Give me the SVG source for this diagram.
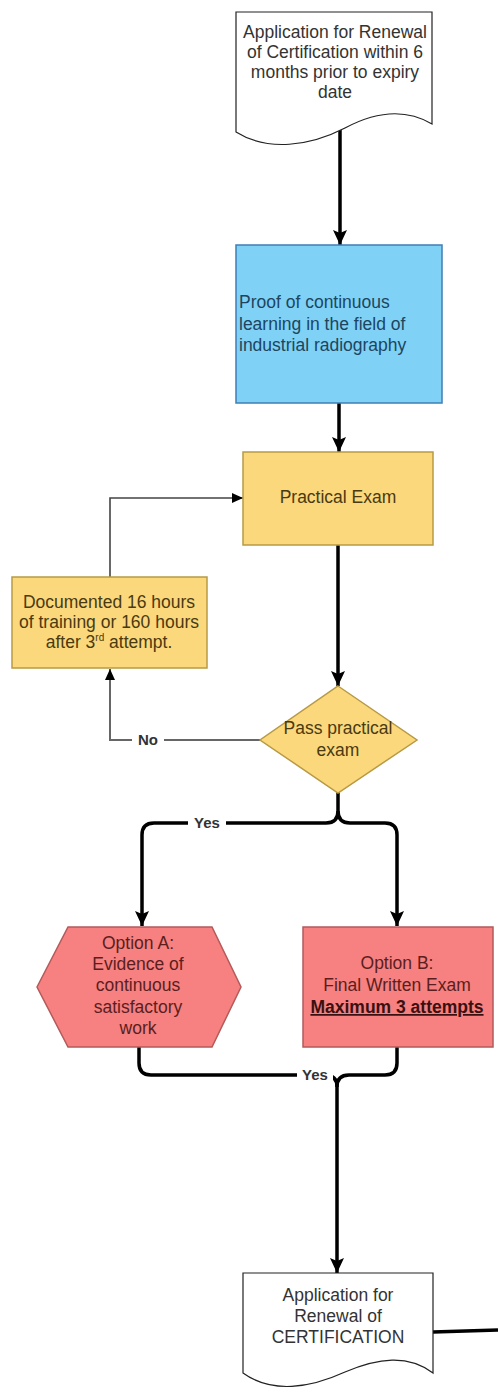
<svg xmlns="http://www.w3.org/2000/svg" width="498" height="1395" viewBox="0 0 498 1395">
<defs>
<style>
.t{font-family:"Liberation Sans",Arial,sans-serif;font-size:17.5px;text-anchor:middle}
.doc{fill:#ffffff;stroke:#222;stroke-width:1.2}
.blue{fill:#7fd2f6;stroke:#3f7fb5;stroke-width:1.5}
.yel{fill:#fbd87b;stroke:#b89a45;stroke-width:1.5}
.red{fill:#f78080;stroke:#b35a5a;stroke-width:1.5}
.thick{fill:none;stroke:#000;stroke-width:3.5}
.thin{fill:none;stroke:#666;stroke-width:2}
.lbl{font-family:"Liberation Sans",Arial,sans-serif;font-size:15px;font-weight:bold;fill:#333;text-anchor:middle}
</style>
<marker id="ah" markerUnits="userSpaceOnUse" markerWidth="16" markerHeight="16" refX="15" refY="8" orient="auto"><path d="M0,1 L15,8 L0,15 L3,8 z" fill="#000"/></marker>
<marker id="as" markerUnits="userSpaceOnUse" markerWidth="12" markerHeight="12" refX="11" refY="6" orient="auto"><path d="M0,1 L11,6 L0,11 z" fill="#000"/></marker>
</defs>
<g id="connectors">
<path class="thick" d="M340,128 V245" marker-end="url(#ah)"/>
<path class="thick" d="M339,403 V452" marker-end="url(#ah)"/>
<path class="thick" d="M338,545 V686" marker-end="url(#ah)"/>
<path class="thin" d="M260,740 H110 V669" marker-end="url(#as)"/>
<path d="M110,577 V498 H243" fill="none" stroke="#444" stroke-width="1.6" marker-end="url(#as)"/>
<path class="thick" d="M338,792 V811 Q338,823 326,823 H154 Q142,823 142,835 V926" marker-end="url(#ah)"/>
<path class="thick" d="M338,811 Q338,823 350,823 H385 Q397,823 397,835 V926" marker-end="url(#ah)"/>
<path class="thick" d="M139,1047 V1063 Q139,1075 151,1075 H325 Q337,1075 337,1087 V1273" marker-end="url(#ah)"/>
<path class="thick" d="M397,1047 V1063 Q397,1075 385,1075 H349 Q337,1075 337,1087"/>
<path class="thick" d="M433,1332 L498,1330"/>
<rect x="132" y="731" width="32" height="17" fill="#fff"/>
<text class="lbl" x="148" y="745">No</text>
<rect x="188" y="814" width="38" height="17" fill="#fff"/>
<text class="lbl" x="207" y="828">Yes</text>
<rect x="297" y="1066" width="36" height="17" fill="#fff"/>
<text class="lbl" x="315" y="1080">Yes</text>
</g>
<g id="n1">
<path class="doc" d="M236,12 H432 V124 C405,108 375,112 345,128 C310,146 268,152 236,132 Z"/>
<text class="t" fill="#333"><tspan x="335" y="38">Application for Renewal</tspan><tspan x="335" y="58">of Certification within 6</tspan><tspan x="335" y="78">months prior to expiry</tspan><tspan x="335" y="98">date</tspan></text>
</g>
<g id="n2">
<rect class="blue" x="236" y="245" width="206" height="158"/>
<text class="t" fill="#1d4560" style="text-anchor:start"><tspan x="239" y="308">Proof of continuous</tspan><tspan x="239" y="330">learning in the field of</tspan><tspan x="239" y="351">industrial radiography</tspan></text>
</g>
<g id="n3">
<rect class="yel" x="243" y="452" width="190" height="93"/>
<text class="t" fill="#4a3a12" x="338" y="503">Practical Exam</text>
</g>
<g id="n4">
<rect class="yel" x="12" y="577" width="195" height="91"/>
<text class="t" fill="#4a3a12"><tspan x="109" y="608">Documented 16 hours</tspan><tspan x="109" y="628">of training or 160 hours</tspan><tspan x="109" y="648">after 3<tspan font-size="10" dy="-7">rd</tspan><tspan dy="7"> attempt.</tspan></tspan></text>
</g>
<g id="n5">
<path class="yel" d="M338,686 L417,740 L338,793 L260,740 Z"/>
<text class="t" fill="#4a3a12"><tspan x="338" y="734">Pass practical</tspan><tspan x="338" y="756">exam</tspan></text>
</g>
<g id="n6">
<path class="red" d="M37,987 L68,927 L212,927 L241,987 L212,1047 L68,1047 Z"/>
<text class="t" fill="#5a1e1e"><tspan x="138" y="949">Option A:</tspan><tspan x="138" y="970">Evidence of</tspan><tspan x="138" y="991">continuous</tspan><tspan x="138" y="1013">satisfactory</tspan><tspan x="138" y="1034">work</tspan></text>
</g>
<g id="n7">
<rect class="red" x="303" y="927" width="190" height="120"/>
<text class="t" fill="#5a1e1e"><tspan x="397" y="969">Option B:</tspan><tspan x="397" y="991">Final Written Exam</tspan></text>
<text class="t" fill="#3a1010" x="397" y="1013" style="font-weight:bold;text-decoration:underline">Maximum 3 attempts</text>
</g>
<g id="n8">
<path class="doc" d="M243,1273 H433 V1373 C408,1354 378,1358 345,1372 C310,1388 272,1394 243,1373 Z"/>
<text class="t" fill="#333"><tspan x="338" y="1301">Application for</tspan><tspan x="338" y="1322">Renewal of</tspan><tspan x="338" y="1343">CERTIFICATION</tspan></text>
</g>
</svg>
